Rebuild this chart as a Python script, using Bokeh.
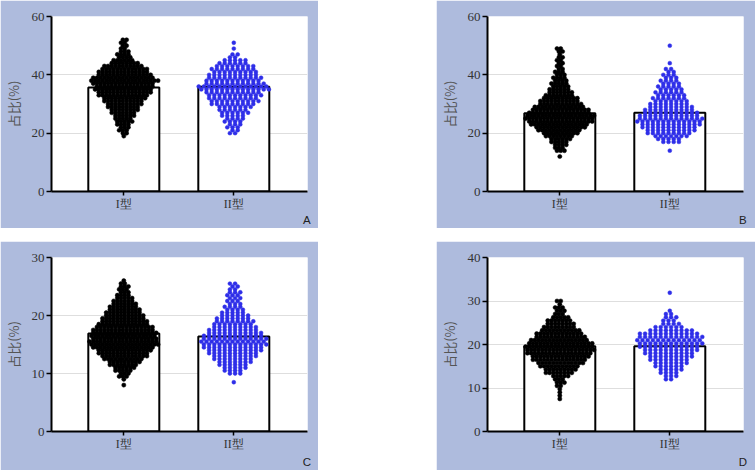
from bokeh.plotting import figure
from bokeh.models import Range1d, FixedTicker, LinearAxis, Spacer
from bokeh.layouts import column, row
from bokeh.embed import file_html
from bokeh.resources import INLINE

# ---------------- data ----------------
categories = ["I型", "II型"]
panel_names = ["A", "B", "C", "D"]
y_max = {"A": 60, "B": 60, "C": 30, "D": 40}
y_ticks = {"A": [0, 20, 40, 60], "B": [0, 20, 40, 60], "C": [0, 10, 20, 30], "D": [0, 10, 20, 30, 40]}

means_A = [35.7, 35.9]
means_B = [26.8, 27.0]
means_C = [16.9, 16.4]
means_D = [19.6, 19.6]

# dot value levels and number of dots at each level
A1_levels = [19, 20, 21, 22, 23, 24, 25, 26, 27, 28, 29, 30, 31, 32, 33, 34, 35, 36, 37, 38, 39, 40, 41, 42, 43, 44, 45, 46, 47, 48, 49, 50, 51, 52]
A1_counts = [1, 2, 3, 3, 4, 5, 5, 6, 7, 8, 9, 10, 11, 12, 14, 15, 16, 16, 17, 19, 17, 15, 14, 13, 11, 8, 6, 4, 4, 3, 2, 2, 2, 2]
A2_levels = [20, 21, 22, 23, 24, 25, 26, 27, 28, 29, 30, 31, 32, 33, 34, 35, 36, 37, 38, 39, 40, 41, 42, 43, 44, 45, 46, 47, 49, 51]
A2_counts = [2, 2, 3, 3, 4, 4, 5, 6, 6, 7, 9, 10, 10, 11, 11, 14, 14, 12, 11, 11, 10, 9, 9, 8, 6, 5, 2, 2, 1, 1]

B1_levels = [12, 14, 15, 16, 17, 18, 19, 20, 21, 22, 23, 24, 25, 26, 27, 28, 29, 30, 31, 32, 33, 34, 35, 36, 37, 38, 39, 40, 41, 42, 43, 44, 45, 46, 47, 48, 49]
B1_counts = [1, 3, 3, 4, 5, 6, 8, 10, 12, 14, 16, 18, 19, 19, 17, 16, 14, 12, 11, 10, 8, 7, 6, 5, 5, 4, 4, 3, 3, 2, 2, 2, 2, 2, 1, 2, 2]
B2_levels = [14, 17, 18, 19, 20, 21, 22, 23, 24, 25, 26, 27, 28, 29, 30, 31, 32, 33, 34, 35, 36, 37, 38, 39, 40, 41, 42, 44, 50]
B2_counts = [1, 4, 5, 7, 9, 10, 11, 12, 13, 13, 12, 11, 10, 9, 8, 7, 7, 6, 6, 5, 5, 4, 4, 3, 3, 2, 2, 1, 1]

C1_levels = [8.0, 9.0, 9.5, 10.0, 10.5, 11.0, 11.5, 12.0, 12.5, 13.0, 13.5, 14.0, 14.5, 15.0, 15.5, 16.0, 16.5, 17.0, 17.5, 18.0, 18.5, 19.0, 19.5, 20.0, 20.5, 21.0, 21.5, 22.0, 22.5, 23.0, 23.5, 24.0, 24.5, 25.0, 25.5, 26.0]
C1_counts = [1, 1, 3, 3, 5, 6, 8, 9, 11, 13, 14, 15, 17, 19, 19, 18, 18, 18, 17, 16, 14, 13, 12, 11, 10, 9, 8, 7, 6, 5, 4, 3, 3, 3, 2, 1]
C2_levels = [8.5, 10.0, 10.5, 11.0, 11.5, 12.0, 12.5, 13.0, 13.5, 14.0, 14.5, 15.0, 15.5, 16.0, 16.5, 17.0, 17.5, 18.0, 18.5, 19.0, 19.5, 20.0, 20.5, 21.0, 21.5, 22.0, 22.5, 23.0, 23.5, 24.0, 24.5, 25.0, 25.5]
C2_counts = [1, 3, 4, 5, 6, 7, 8, 9, 10, 11, 12, 13, 13, 13, 12, 11, 10, 9, 8, 8, 7, 6, 5, 4, 4, 3, 3, 3, 3, 3, 2, 2, 2]

D1_levels = [7.5, 8.25, 9.0, 9.75, 10.5, 11.25, 12.0, 12.75, 13.5, 14.25, 15.0, 15.75, 16.5, 17.25, 18.0, 18.75, 19.5, 20.25, 21.0, 21.75, 22.5, 23.25, 24.0, 24.75, 25.5, 26.25, 27.0, 27.75, 28.5, 29.25, 30.0]
D1_counts = [1, 1, 1, 1, 2, 3, 3, 5, 8, 9, 11, 13, 15, 16, 18, 19, 19, 18, 16, 14, 13, 11, 9, 8, 7, 5, 3, 3, 3, 1, 2]
D2_levels = [12.0, 12.75, 13.5, 14.25, 15.0, 15.75, 16.5, 17.25, 18.0, 18.75, 19.5, 20.25, 21.0, 21.75, 22.5, 23.25, 24.0, 24.75, 25.5, 26.25, 27.0, 27.75, 31.9]
D2_counts = [2, 3, 4, 5, 6, 7, 8, 9, 10, 11, 12, 13, 13, 13, 12, 9, 6, 4, 3, 3, 2, 1, 1]

panel_data = {
    "A": (means_A, (A1_levels, A1_counts), (A2_levels, A2_counts)),
    "B": (means_B, (B1_levels, B1_counts), (B2_levels, B2_counts)),
    "C": (means_C, (C1_levels, C1_counts), (C2_levels, C2_counts)),
    "D": (means_D, (D1_levels, D1_counts), (D2_levels, D2_counts)),
}

# ---------------- style / layout ----------------
PANEL_BG = "#aebbdd"
DOT_COLORS = ["#000000", "#2e2ee8"]
DOT_SIZES = [4.2, 3.9]
DOT_SPACING = [3.7, 5.2]   # px between neighbouring dots in one row
FRAME_W = 256
PX_PER_X = 110.0
X_END = 2.67
X_START = X_END - FRAME_W / PX_PER_X
LETTER_X = 2.665
SERIF = "Liberation Serif"

geom = {
    # width, height, left border, top border, frame height, letter standoff
    "A": (318, 228, 51, 16, 176, 0),
    "B": (319, 228, 51, 16, 176, 0),
    "C": (318, 229, 51, 16, 174, 2),
    "D": (319, 229, 51, 16, 174, 2),
}


def swarm(levels, counts, center, spacing_px):
    xs, ys = [], []
    for r, (lv, n) in enumerate(zip(levels, counts)):
        shift = (spacing_px / 4.0) * (1 if r % 2 else -1) if n > 1 else 0.0
        for i in range(n):
            xs.append(center + ((i - (n - 1) / 2.0) * spacing_px + shift) / PX_PER_X)
            ys.append(lv)
    return xs, ys


def make_panel(name):
    w, h, left, top, frame_h, letter_standoff = geom[name]
    bottom = h - top - frame_h
    right = w - left - FRAME_W
    ymax = y_max[name]
    p = figure(width=w, height=h, output_backend="svg", toolbar_location=None,
               x_range=Range1d(X_START, X_END), y_range=Range1d(0, ymax),
               min_border_left=left, min_border_right=right,
               min_border_top=top, min_border_bottom=bottom,
               background_fill_color="white", border_fill_color=PANEL_BG,
               outline_line_color=None)

    means, g1, g2 = panel_data[name]
    xs_cat = [1, 2]
    p.vbar(x=xs_cat, top=means, bottom=0, width=71 / PX_PER_X,
           fill_color="white", line_color="black", line_width=2)

    for k, (lv, ct) in enumerate([g1, g2]):
        sx, sy = swarm(lv, ct, xs_cat[k], DOT_SPACING[k])
        p.scatter(sx, sy, size=DOT_SIZES[k], fill_color=DOT_COLORS[k],
                  line_color=DOT_COLORS[k], line_width=0.5)

    # axes
    p.xaxis.ticker = FixedTicker(ticks=xs_cat)
    p.xaxis.major_label_overrides = {xs_cat[i]: categories[i] for i in range(2)}
    p.yaxis.ticker = FixedTicker(ticks=y_ticks[name])
    for ax in (p.xaxis[0], p.yaxis[0]):
        ax.axis_line_color = "black"
        ax.axis_line_width = 2
        ax.major_tick_line_color = "black"
        ax.major_tick_line_width = 1.5
        ax.major_tick_out = 5
        ax.major_tick_in = 0
        ax.minor_tick_line_color = None
        ax.major_label_text_font = SERIF
        ax.major_label_text_font_size = "13px"
        ax.major_label_text_color = "#333333"
    p.xaxis.major_tick_out = 4
    p.xaxis.major_label_standoff = 1
    p.xaxis.major_label_text_font_size = "12px"
    p.xaxis.axis_label_standoff = 0
    p.yaxis.major_label_standoff = 2
    p.yaxis.axis_label = "占比(%)"
    p.yaxis.axis_label_text_font = "Noto Sans CJK SC"
    p.yaxis.axis_label_text_font_size = "13px"
    p.yaxis.axis_label_text_font_style = "normal"
    p.yaxis.axis_label_text_color = "#555555"
    p.yaxis.axis_label_standoff = 6

    p.xgrid.grid_line_color = None
    p.ygrid.ticker = FixedTicker(ticks=[t for t in y_ticks[name] if 0 < t < ymax])
    p.ygrid.grid_line_color = "#dedede"
    p.ygrid.grid_line_width = 1

    # panel letter as an extra, line-less axis below the x axis
    letter_axis = LinearAxis(ticker=FixedTicker(ticks=[LETTER_X]),
                             major_label_overrides={LETTER_X: name},
                             axis_line_color=None, major_tick_line_color=None,
                             minor_tick_line_color=None, major_tick_out=0, major_tick_in=0,
                             major_label_standoff=letter_standoff, axis_label_standoff=0,
                             major_label_text_font="Liberation Sans",
                             major_label_text_font_size="11.5px",
                             major_label_text_color="#222222")
    p.add_layout(letter_axis, "below")
    return p


pA, pB, pC, pD = [make_panel(n) for n in panel_names]

layout = column(
    row(pA, Spacer(width=118, height=228), pB),
    Spacer(width=755, height=13),
    row(pC, Spacer(width=118, height=229), pD),
)

open("out.html", "w").write(file_html(layout, INLINE))
